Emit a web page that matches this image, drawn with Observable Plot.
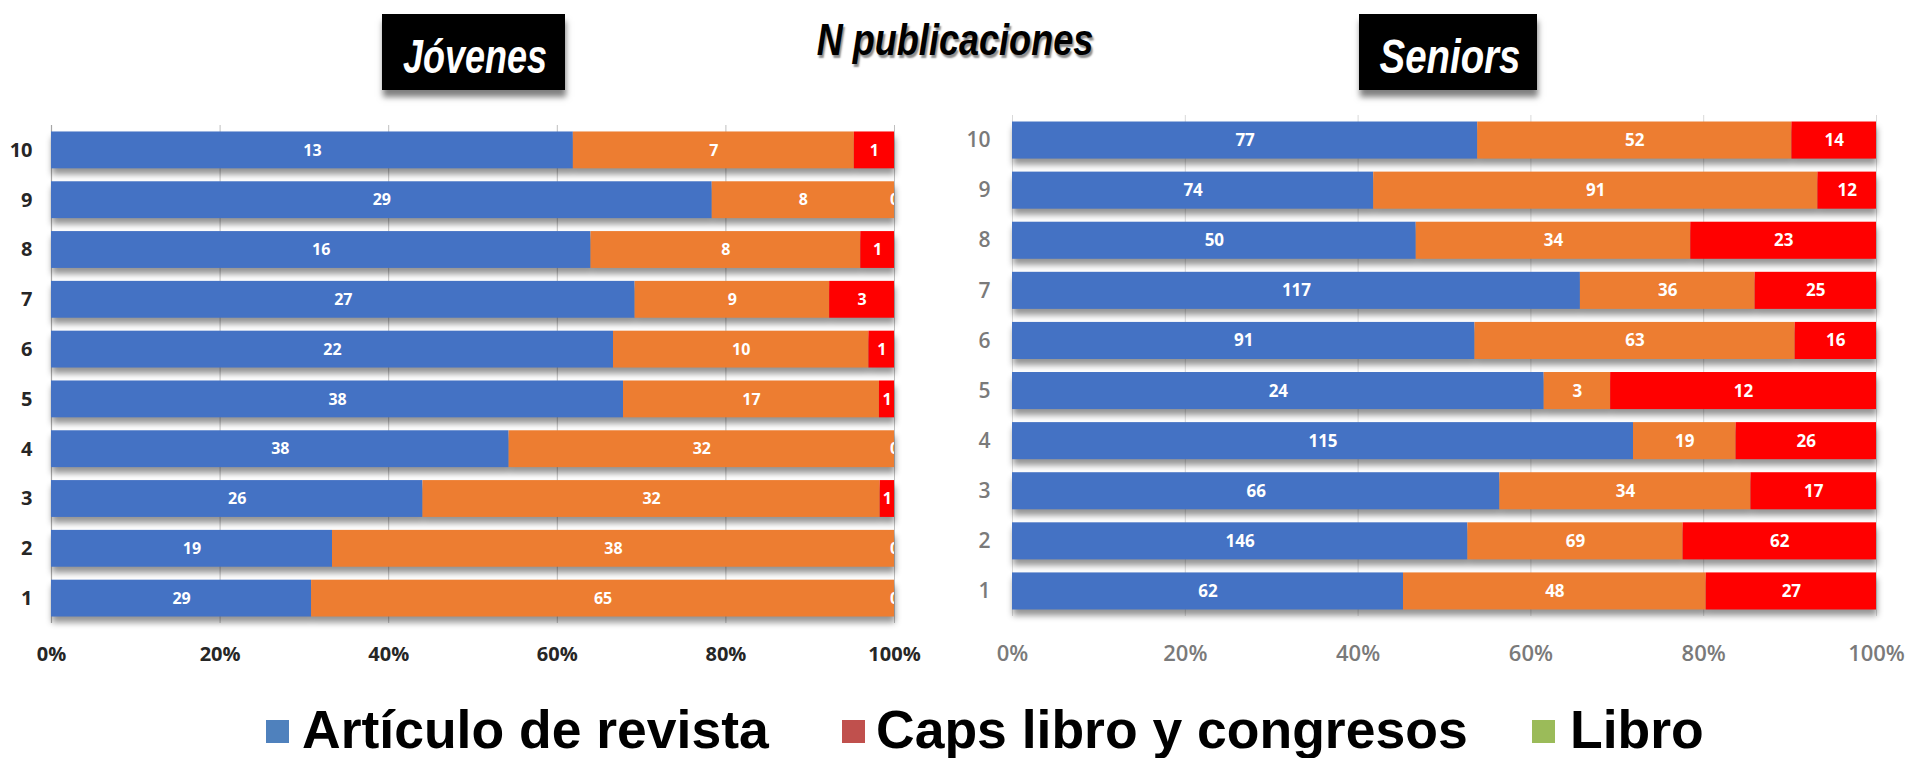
<!DOCTYPE html>
<html>
<head>
<meta charset="utf-8">
<script src="https://cdn.jsdelivr.net/npm/d3@7"></script>
<script src="https://cdn.jsdelivr.net/npm/@observablehq/plot@0.6"></script>
<style>
  html, body { margin: 0; padding: 0; background: #fff; }
  body { width: 1913px; height: 758px; position: relative; overflow: hidden; font-family: "Liberation Sans", Arial, sans-serif; }
  .box { position: absolute; background: #000; box-shadow: 1px 7px 6px rgba(0,0,0,0.5); }
  .ttl { position: absolute; color: #fff; font: italic bold 48px/48px "Liberation Sans", Arial, sans-serif; white-space: nowrap; }
  .main { position: absolute; color: #000; font: italic bold 44px/44px "Liberation Sans", Arial, sans-serif; white-space: nowrap; transform: translateX(-50%) scaleX(0.82); text-shadow: 2px 3px 2px rgba(0,0,0,0.45); }
  .chart { position: absolute; }
  .sw { position: absolute; width: 23px; height: 23px; }
  .lg { position: absolute; font: bold 53.5px/52px "Liberation Sans", Arial, sans-serif; color: #000; white-space: nowrap; }
</style>
</head>
<body>
<div class="box" style="left:382px;top:14px;width:183px;height:76px;"></div>
<div class="ttl" style="left:475px;top:33px;transform:translateX(-50%) scaleX(0.75);">Jóvenes</div>
<div class="main" style="left:955px;top:18px;">N publicaciones</div>
<div class="box" style="left:1359px;top:14px;width:178px;height:76px;"></div>
<div class="ttl" style="left:1450px;top:33px;transform:translateX(-50%) scaleX(0.8);">Seniors</div>

<div id="left" class="chart" style="left:0px;top:100px;"></div>
<div id="right" class="chart" style="left:940px;top:90px;"></div>
<div id="legend"></div>

<script>
// ---- data ----
const rows = ["1", "2", "3", "4", "5", "6", "7", "8", "9", "10"];
const series = ["Artículo de revista", "Caps libro y congresos", "Libro"];

const jovenesArticulo = [29, 19, 26, 38, 38, 22, 27, 16, 29, 13];
const jovenesCaps     = [65, 38, 32, 32, 17, 10, 9, 8, 8, 7];
const jovenesLibro    = [0, 0, 1, 0, 1, 1, 3, 1, 0, 1];

const seniorsArticulo = [62, 146, 66, 115, 24, 91, 117, 50, 74, 77];
const seniorsCaps     = [48, 69, 34, 19, 3, 63, 36, 34, 91, 52];
const seniorsLibro    = [27, 62, 17, 26, 12, 16, 25, 23, 12, 14];

const xTicks = [0, 0.2, 0.4, 0.6, 0.8, 1];
const barColors = ["#4472C4", "#ED7D31", "#FF0000"];
const legendLabels = ["Artículo de revista", "Caps libro y congresos", "Libro"];
const legendColors = ["#4F81BD", "#C0504D", "#9BBB59"];

function toLong(a, b, c) {
  const cols = [a, b, c];
  const out = [];
  series.forEach((s, si) => rows.forEach((r, ri) => out.push({row: r, series: s, value: cols[si][ri]})));
  return out;
}

function chart(data, o) {
  const svg = Plot.plot({
    width: o.width, height: o.height,
    marginLeft: o.ml, marginRight: o.mr, marginTop: o.mt, marginBottom: o.mb,
    style: {background: "transparent", overflow: "visible", fontFamily: "'Open Sans', sans-serif"},
    x: {domain: [0, 1], axis: null},
    y: {domain: rows.slice().reverse(), paddingInner: 0.26, paddingOuter: 0.13, round: false, axis: null},
    color: {domain: series, range: barColors},
    marks: [
      Plot.gridX(xTicks, {stroke: o.grid, strokeOpacity: 1, strokeWidth: 1}),
      o.axisLine ? Plot.ruleX([0], {stroke: "#a6a6a6", strokeWidth: 1.2}) : null,
      Plot.barX(data, Plot.stackX({x: "value", y: "row", fill: "series", offset: "normalize"})),
      Plot.text(data, Plot.stackX({
        x: "value", y: "row", z: "series", offset: "normalize",
        text: d => String(d.value), fill: "white", fontSize: o.labelSize, fontWeight: "bold", clip: true
      })),
      Plot.axisX(xTicks, {
        tickSize: 0, tickPadding: o.xPad, label: null,
        tickFormat: d => Math.round(d * 100) + "%",
        fontSize: o.xSize, fontWeight: o.weight, fill: o.textColor
      }),
      Plot.axisY({
        tickSize: 0, tickPadding: o.yPad, label: null,
        fontSize: o.ySize, fontWeight: o.weight, fill: o.textColor
      })
    ]
  });
  d3.select(svg).selectAll('g[aria-label="bar"]')
    .style("filter", "drop-shadow(1px 6px 3px rgba(0,0,0,0.42))");
  return svg;
}

document.getElementById("left").appendChild(chart(toLong(jovenesArticulo, jovenesCaps, jovenesLibro), {
  width: 930, height: 590, ml: 51, mr: 36, mt: 25, mb: 67,
  grid: "#bfbfbf", axisLine: true, labelSize: 16,
  xPad: 23, yPad: 19, xSize: 20, ySize: 20, weight: "bold", textColor: "#262626"
}));

document.getElementById("right").appendChild(chart(toLong(seniorsArticulo, seniorsCaps, seniorsLibro), {
  width: 973, height: 600, ml: 72, mr: 37, mt: 25, mb: 74,
  grid: "#d9d9d9", axisLine: false, labelSize: 17,
  xPad: 29, yPad: 22, xSize: 22, ySize: 21, weight: 600, textColor: "#7a7a7a"
}));

// ---- legend ----
const legendPos = [
  {sw: 266, tx: 302},
  {sw: 842, tx: 876},
  {sw: 1532, tx: 1570}
];
const lg = document.getElementById("legend");
legendLabels.forEach((name, i) => {
  const sw = document.createElement("div");
  sw.className = "sw";
  sw.style.left = legendPos[i].sw + "px";
  sw.style.top = "720px";
  sw.style.background = legendColors[i];
  lg.appendChild(sw);
  const t = document.createElement("div");
  t.className = "lg";
  t.style.left = legendPos[i].tx + "px";
  t.style.top = "704px";
  t.textContent = name;
  lg.appendChild(t);
});
</script>
</body>
</html>
